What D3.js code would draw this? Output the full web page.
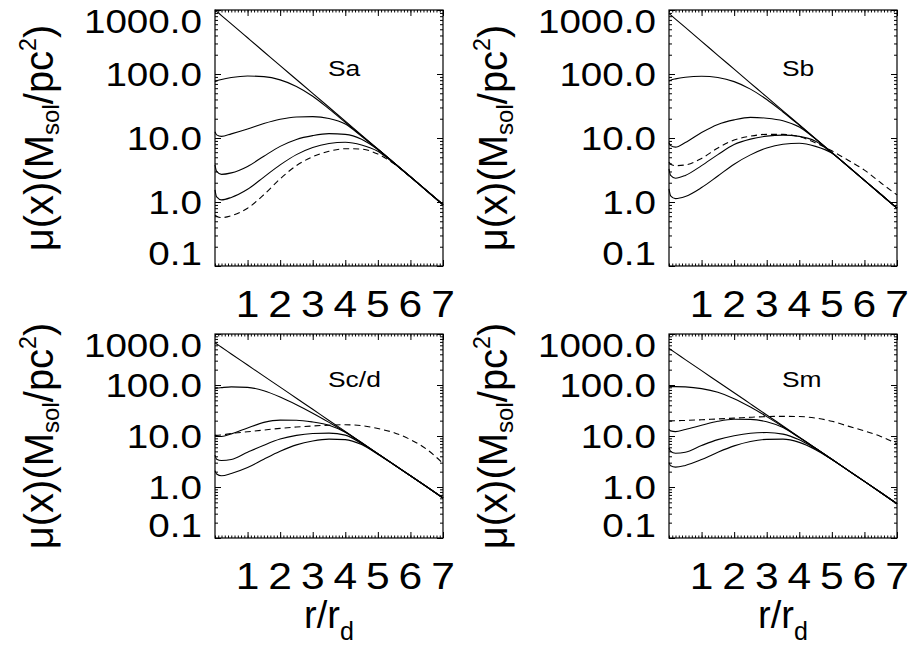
<!DOCTYPE html>
<html>
<head>
<meta charset="utf-8">
<script src="https://cdn.jsdelivr.net/npm/d3@7"></script>
<style>
  html, body { margin: 0; padding: 0; background: #fff; }
  svg { display: block; }
  text { font-family: "Liberation Sans", Arial, Helvetica, sans-serif; fill: #000; }
</style>
</head>
<body>
<svg id="chart" width="908" height="646"></svg>
<script>
"use strict";

// r/r_d sample points shared by every curve
const radius = [0, 0.05, 0.2, 0.5, 1, 1.5, 2, 2.5, 3, 3.5, 4, 4.5, 5, 5.5, 6, 6.5, 7];

const saDisk   = [1000, 951, 819, 607, 368, 223, 135, 82, 49.8, 30.2, 18.3, 11.1, 6.74, 4.09, 2.48, 1.50, 0.91];
const saCurve1 = [76, 78, 82, 88, 93, 91, 81, 64, 45, 28.5, 17.6, 10.9, 6.7, 4.08, 2.48, 1.50, 0.91];
const saCurve2 = [12.5, 11.2, 10.6, 11.6, 13.8, 16.8, 19.6, 21.3, 21.6, 20.2, 16.5, 10.6, 6.6, 4.07, 2.48, 1.50, 0.91];
const saCurve3 = [3.8, 3.0, 2.7, 2.85, 3.6, 5.2, 7.4, 9.5, 10.9, 11.7, 11.4, 9.6, 6.6, 4.06, 2.48, 1.50, 0.91];
const saCurve4 = [1.55, 1.2, 1.08, 1.18, 1.58, 2.45, 3.8, 5.5, 7.1, 8.2, 8.6, 7.8, 6.2, 4.0, 2.47, 1.50, 0.91];
const saDashed = [0.62, 0.6, 0.57, 0.61, 0.8, 1.3, 2.3, 3.7, 5.1, 6.2, 6.8, 6.7, 5.6, 3.95, 2.46, 1.50, 0.91];

const sbDisk   = [880, 837, 720, 534, 324, 196, 119, 72.2, 43.8, 26.6, 16.1, 9.78, 5.93, 3.60, 2.18, 1.32, 0.80];
const sbCurve1 = [78, 80, 84, 89, 92, 88, 76, 58, 40, 25.5, 15.8, 9.7, 5.9, 3.6, 2.18, 1.32, 0.80];
const sbCurve2 = [8.5, 7.6, 7.2, 8.5, 12.2, 16.3, 19.2, 21.0, 20.4, 18.6, 14.8, 9.6, 5.9, 3.6, 2.18, 1.32, 0.80];
const sbCurve3 = [3.3, 2.6, 2.35, 2.6, 3.7, 5.5, 7.9, 9.6, 10.7, 11.1, 10.6, 8.9, 5.85, 3.6, 2.18, 1.32, 0.80];
const sbCurve4 = [1.6, 1.25, 1.13, 1.22, 1.68, 2.55, 3.9, 5.45, 7.0, 8.0, 8.3, 7.4, 5.8, 3.58, 2.18, 1.32, 0.80];
const sbDashed = [4.2, 3.9, 3.7, 3.8, 4.8, 7.0, 9.3, 10.7, 11.4, 11.4, 10.5, 8.4, 6.3, 4.5, 3.15, 2.0, 1.29];

const scDisk   = [670, 637, 549, 406, 246, 149, 90.7, 55.0, 33.4, 20.2, 12.3, 7.45, 4.52, 2.74, 1.66, 1.01, 0.61];
const scCurve1 = [86, 87, 89, 92, 90, 77, 58, 41, 28, 18.5, 12.0, 7.4, 4.5, 2.74, 1.66, 1.01, 0.61];
const scCurve2 = [10.5, 10.0, 9.8, 11.0, 14.4, 18.5, 20.5, 20.4, 18.8, 16.2, 11.8, 7.3, 4.5, 2.74, 1.66, 1.01, 0.61];
const scCurve3 = [4.2, 3.5, 3.3, 3.45, 4.8, 6.6, 8.7, 10.3, 11.2, 11.4, 10.4, 7.1, 4.45, 2.73, 1.66, 1.01, 0.61];
const scCurve4 = [2.1, 1.8, 1.66, 1.84, 2.4, 3.5, 5.0, 6.7, 8.0, 8.7, 8.5, 6.8, 4.4, 2.72, 1.66, 1.01, 0.61];
const scDashed = [10.3, 10.3, 10.5, 11.2, 12.1, 13.1, 14.1, 15.0, 15.7, 16.3, 16.6, 16.0, 14.0, 11.6, 8.5, 5.5, 2.9];

const smDisk   = [520, 495, 426, 315, 191, 116, 70.4, 42.7, 25.9, 15.7, 9.52, 5.78, 3.50, 2.12, 1.29, 0.78, 0.47];
const smCurve1 = [92, 93, 93, 92, 85, 72, 54, 37, 24, 15.2, 9.4, 5.75, 3.5, 2.12, 1.29, 0.78, 0.47];
const smCurve2 = [13.5, 12.6, 12.2, 13.4, 16.2, 19.4, 21.3, 21.2, 19.0, 14.6, 9.3, 5.75, 3.5, 2.12, 1.29, 0.78, 0.47];
const smCurve3 = [5.8, 5.0, 4.6, 4.8, 6.5, 8.5, 10.1, 11.3, 11.7, 10.9, 8.4, 5.6, 3.48, 2.12, 1.29, 0.78, 0.47];
const smCurve4 = [3.0, 2.6, 2.45, 2.65, 3.45, 4.8, 6.4, 7.8, 8.6, 8.7, 7.5, 5.4, 3.45, 2.11, 1.29, 0.78, 0.47];
const smDashed = [19.8, 19.8, 19.9, 20.2, 20.8, 21.6, 22.4, 23.3, 24.0, 24.3, 24.1, 22.5, 19.5, 15.6, 12.6, 9.8, 7.0];

const panelNames  = ['Sa', 'Sb', 'Sc/d', 'Sm'];
const yTicks      = [0.1, 1, 10, 100, 1000];
const yTickLabels = ['0.1', '1.0', '10.0', '100.0', '1000.0'];
const xTicks      = [1, 2, 3, 4, 5, 6, 7];

const panels = [
  {name: panelNames[0], solid: [saDisk, saCurve1, saCurve2, saCurve3, saCurve4], dashed: saDashed,
   left: 215, top: 10, width: 228, height: 256, xTitle: false},
  {name: panelNames[1], solid: [sbDisk, sbCurve1, sbCurve2, sbCurve3, sbCurve4], dashed: sbDashed,
   left: 669, top: 10, width: 228, height: 256, xTitle: false},
  {name: panelNames[2], solid: [scDisk, scCurve1, scCurve2, scCurve3, scCurve4], dashed: scDashed,
   left: 215, top: 334, width: 228, height: 204, xTitle: true},
  {name: panelNames[3], solid: [smDisk, smCurve1, smCurve2, smCurve3, smCurve4], dashed: smDashed,
   left: 669, top: 334, width: 228, height: 204, xTitle: true}
];

const svg = d3.select('#chart');

// log minor ticks 2..9 in each decade, linear minors every 0.1
const yMinor = [];
for (let e = -1; e < 3; e++){
    for (let k = 2; k < 10; k++){
        yMinor.push(k * Math.pow(10, e));
    }
}
const xMinor = d3.range(0, 71).map(function(i){ return i / 10; });

const drawPanel = function(p){
    const x = d3.scaleLinear().domain([0, 7]).range([p.left, p.left + p.width]);
    const y = d3.scaleLog().domain([0.1, 1000]).range([p.top + p.height, p.top]);
    const bottom = p.top + p.height;
    const right = p.left + p.width;

    const g = svg.append('g');

    const addAxis = function(axis, tf, values, size){
        const a = g.append('g')
                   .attr('transform', tf)
                   .call(axis.tickValues(values).tickSize(-size).tickSizeOuter(0).tickFormat(''));
        a.select('.domain').remove();
        a.selectAll('line').attr('stroke', '#000').attr('stroke-width', 1);
    };

    addAxis(d3.axisLeft(y),   'translate(' + p.left + ',0)', yMinor, 3);
    addAxis(d3.axisLeft(y),   'translate(' + p.left + ',0)', yTicks, 6);
    addAxis(d3.axisRight(y),  'translate(' + right + ',0)', yMinor, 3);
    addAxis(d3.axisRight(y),  'translate(' + right + ',0)', yTicks, 6);
    addAxis(d3.axisBottom(x), 'translate(0,' + bottom + ')', xMinor, 2.5);
    addAxis(d3.axisBottom(x), 'translate(0,' + bottom + ')', xTicks, 6);
    addAxis(d3.axisTop(x),    'translate(0,' + p.top + ')', xMinor, 2.5);
    addAxis(d3.axisTop(x),    'translate(0,' + p.top + ')', xTicks, 6);

    g.append('rect')
     .attr('x', p.left)
     .attr('y', p.top)
     .attr('width', p.width)
     .attr('height', p.height)
     .attr('fill', 'none')
     .attr('stroke', '#000')
     .attr('stroke-width', 1.2);

    const line = d3.line()
                   .x(function(d, i){ return x(radius[i]); })
                   .y(function(d){ return y(d); })
                   .curve(d3.curveMonotoneX);

    g.selectAll('path.solid')
     .data(p.solid)
     .enter()
     .append('path')
     .attr('class', 'solid')
     .attr('d', line)
     .attr('fill', 'none')
     .attr('stroke', '#000')
     .attr('stroke-width', 1.1);

    g.append('path')
     .datum(p.dashed)
     .attr('d', line)
     .attr('fill', 'none')
     .attr('stroke', '#000')
     .attr('stroke-width', 1.1)
     .attr('stroke-dasharray', '6,4');

    // y tick labels, the end ones pulled inside the box like the original
    g.selectAll('text.ylab')
     .data(yTicks)
     .enter()
     .append('text')
     .attr('class', 'ylab')
     .attr('text-anchor', 'end')
     .style('font-size', '33px')
     .attr('transform', function(d){
         const cy = Math.max(p.top + 11, Math.min(bottom - 13, y(d)));
         return 'translate(' + (p.left - 13) + ',' + (cy + 11.8) + ') scale(1.17,1)';
     })
     .text(function(d, i){ return yTickLabels[i]; });

    g.selectAll('text.xlab')
     .data(xTicks)
     .enter()
     .append('text')
     .attr('class', 'xlab')
     .attr('text-anchor', 'middle')
     .style('font-size', '37px')
     .attr('transform', function(d){
         return 'translate(' + x(d) + ',' + (bottom + 51) + ') scale(1.15,1)';
     })
     .text(function(d){ return d; });

    g.append('text')
     .style('font-size', '22px')
     .attr('transform', 'translate(' + x(3.47) + ',' + (y(100) + 1.5) + ') scale(1.2,1)')
     .text(p.name);

    const yTitle = g.append('text')
                    .attr('text-anchor', 'middle')
                    .style('font-size', '40px')
                    .attr('transform', 'translate(' + (p.left - 162) + ',' + (p.top + p.height / 2) + ') rotate(-90)');
    yTitle.append('tspan').text('\u03bc(x)(M');
    yTitle.append('tspan').attr('dy', 6).style('font-size', '24px').text('sol');
    yTitle.append('tspan').attr('dy', -6).text('/pc');
    yTitle.append('tspan').attr('dy', -17).style('font-size', '23px').text('2');
    yTitle.append('tspan').attr('dy', 17).text(')');

    if (p.xTitle){
        const xTitle = g.append('text')
                        .attr('text-anchor', 'middle')
                        .style('font-size', '38px')
                        .attr('x', p.left + p.width / 2)
                        .attr('y', 628);
        xTitle.append('tspan').text('r/r');
        xTitle.append('tspan').attr('dy', 12).style('font-size', '25px').text('d');
    }
};

panels.forEach(drawPanel);
</script>
</body>
</html>
